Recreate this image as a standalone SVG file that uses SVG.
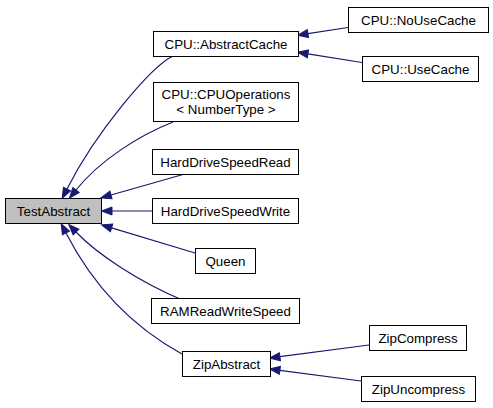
<svg xmlns="http://www.w3.org/2000/svg" width="493" height="408" viewBox="0 0 493 408">
<style>
.node rect{fill:#ffffff;stroke:#000000;stroke-width:1}
.node.hl rect{fill:#bfbfbf}
.node text{font-family:"Liberation Sans",Arial,Helvetica,sans-serif;font-size:13.33px;fill:#000000;text-anchor:middle}
.edges path{fill:none;stroke:#191970;stroke-width:1.2;marker-end:url(#arr)}
</style>
<defs>
<marker id="arr" markerUnits="userSpaceOnUse" markerWidth="12" markerHeight="10" refX="0" refY="4" orient="auto" viewBox="0 0 12 8" overflow="visible">
<path d="M0,0 L10.5,4 L0,8 z" fill="#191970" stroke="#191970" stroke-width="1"/>
</marker>
</defs>
<rect width="493" height="408" fill="#ffffff"/>
<g class="edges">
<path d="M172,56.5 C150,68 96,132 67,189"/>
<path d="M173,122 C140,135 100,160 76,190"/>
<path d="M183,174.5 L111,195"/>
<path d="M152,211 L112,211"/>
<path d="M195,253 L111.6,227.9"/>
<path d="M180,299 C140,282 98,255 76,232"/>
<path d="M182,354 C120,320 85,270 66,233"/>
<path d="M348,27.5 L307.9,33.6"/>
<path d="M362,62.5 L307.9,53.9"/>
<path d="M369,345 L279.9,356.7"/>
<path d="M361,381 L279.9,370.3"/>
</g>
<g id="node-TestAbstract" class="node hl"><rect x="5.5" y="198.5" width="96" height="25"/><text x="53.5" y="215.5">TestAbstract</text></g>
<g id="node-AbstractCache" class="node"><rect x="153.5" y="31.5" width="145" height="25"/><text x="226" y="48.5">CPU::AbstractCache</text></g>
<g id="node-CPUOperations" class="node"><rect x="153.5" y="82.5" width="145" height="39"/><text x="226" y="99">CPU::CPUOperations</text><text x="226" y="114">&lt; NumberType &gt;</text></g>
<g id="node-NoUseCache" class="node"><rect x="348.5" y="7.5" width="140" height="25"/><text x="418.5" y="24.5">CPU::NoUseCache</text></g>
<g id="node-UseCache" class="node"><rect x="362.5" y="56.5" width="116" height="25"/><text x="420.5" y="73.5">CPU::UseCache</text></g>
<g id="node-HardDriveSpeedRead" class="node"><rect x="152.5" y="149.5" width="146" height="25"/><text x="225.5" y="166.5">HardDriveSpeedRead</text></g>
<g id="node-HardDriveSpeedWrite" class="node"><rect x="152.5" y="198.5" width="146" height="25"/><text x="225.5" y="215.5">HardDriveSpeedWrite</text></g>
<g id="node-Queen" class="node"><rect x="195.5" y="248.5" width="60" height="25"/><text x="225.5" y="265.5">Queen</text></g>
<g id="node-RAMReadWriteSpeed" class="node"><rect x="151.5" y="298.5" width="148" height="25"/><text x="225.5" y="315.5">RAMReadWriteSpeed</text></g>
<g id="node-ZipAbstract" class="node"><rect x="182.5" y="351.5" width="88" height="25"/><text x="226.5" y="368.5">ZipAbstract</text></g>
<g id="node-ZipCompress" class="node"><rect x="369.5" y="325.5" width="97" height="25"/><text x="418" y="342.5">ZipCompress</text></g>
<g id="node-ZipUncompress" class="node"><rect x="361.5" y="376.5" width="114" height="25"/><text x="418.5" y="393.5">ZipUncompress</text></g>
</svg>
